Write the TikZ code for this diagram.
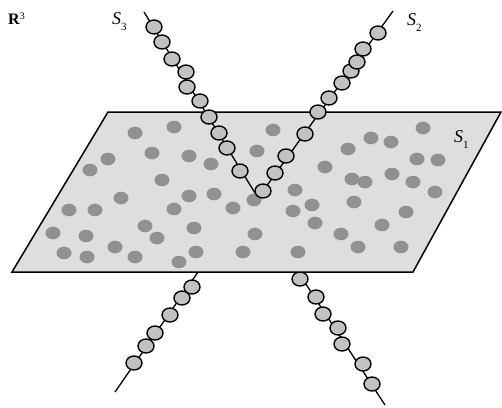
\documentclass[tikz,border=0pt]{standalone}
\usepackage{fontspec}
\setmainfont{Liberation Serif}
\usetikzlibrary{positioning}
\definecolor{PlaneGray}{HTML}{DEDEDE}
\definecolor{SpotGray}{HTML}{919191}
\definecolor{BeadGray}{HTML}{C2C2C2}
\newcommand{\lowidx}[1]{\raisebox{-6pt}{\fontsize{11}{11}\selectfont #1}}
\tikzset{
    plane/.style={draw=black, fill=PlaneGray, line width=1.5pt, line join=miter},
    spot/.style={fill=SpotGray},
    bead/.style={draw=black, fill=BeadGray, line width=1.4pt},
    strand/.style={draw=black, line width=1.3pt},
    lbl/.style={anchor=base west, inner sep=0pt, font=\fontsize{18}{18}\selectfont}
}

\begin{document}
\begin{tikzpicture}[x=1pt,y=-1pt]
    \useasboundingbox (0,0) rectangle (502,407);

    % parts of S2 and S3 below the plane
    \coordinate (lowA) at (198,272);
    \coordinate (lowAend) at (115,392);
    \coordinate (lowB) at (298,272);
    \coordinate (lowBend) at (385,405);
    \draw[strand] (lowA) -- (lowAend);
    \draw[strand] (lowB) -- (lowBend);
    \foreach \x/\y in {134/363, 146/346, 155/333, 170/315, 182/298, 192/287}
        \draw[bead] (\x,\y) ellipse [x radius=8, y radius=7];
    \foreach \x/\y in {300/279, 316/297, 323/314, 338/328, 342/344, 363/364, 372/384}
        \draw[bead] (\x,\y) ellipse [x radius=8, y radius=7];

    % the plane S1
    \coordinate (pa) at (12,272);
    \coordinate (pb) at (413,272);
    \coordinate (pc) at (501,112);
    \coordinate (pd) at (108,112);
    \draw[plane] (pa) -- (pb) -- (pc) -- (pd) -- cycle;
    \foreach \x/\y in {135/133, 174/127, 108/159, 90/170, 152/153, 189/156, 162/180,
        211/164, 214/194, 189/196, 121/198, 69/210, 95/210, 53/233, 86/236,
        145/226, 157/238, 115/247, 64/253, 87/257, 135/257, 179/262, 196/252,
        194/228, 174/209, 233/208, 254/200, 273/130, 257/151, 295/190, 325/167,
        312/205, 293/211, 315/223, 255/234, 243/252, 298/252, 423/128, 371/138,
        391/142, 348/149, 417/159, 438/160, 352/179, 365/182, 392/174, 413/182,
        435/192, 354/202, 406/212, 382/225, 341/234, 358/247, 401/247}
        \fill[spot] (\x,\y) ellipse [x radius=7.5, y radius=6.3];

    % S3 and S2 above the plane
    \coordinate (topS3) at (144,12);
    \coordinate (topS2) at (393,11);
    \coordinate (meet) at (263,191);
    \draw[strand] (topS3) -- (255,193);
    \draw[strand] (topS2) -- (meet);
    \foreach \x/\y in {154/27, 162/42, 172/59, 186/72, 187/87, 200/101, 209/117,
        219/133, 227/148, 240/171}
        \draw[bead] (\x,\y) ellipse [x radius=8, y radius=7];
    \foreach \x/\y in {275/173, 286/156, 305/134, 318/112, 329/98, 342/83,
        351/71, 357/62, 363/49, 378/33}
        \draw[bead] (\x,\y) ellipse [x radius=8, y radius=7];
    \draw[bead] (meet) ellipse [x radius=8, y radius=7];

    % labels
    \node[lbl, font=\fontsize{16}{16}\selectfont] (rthree) at (8,24)
        {\textbf{R}\raisebox{5pt}{\fontsize{10}{10}\selectfont 3}};
    \node[lbl] (sthree) at (112,24) {\textit{S}\lowidx{3}};
    \node[lbl] (stwo) at (407,25) {\textit{S}\lowidx{2}};
    \node[lbl] (sone) at (454,142) {\textit{S}\lowidx{1}};
\end{tikzpicture}
\end{document}
